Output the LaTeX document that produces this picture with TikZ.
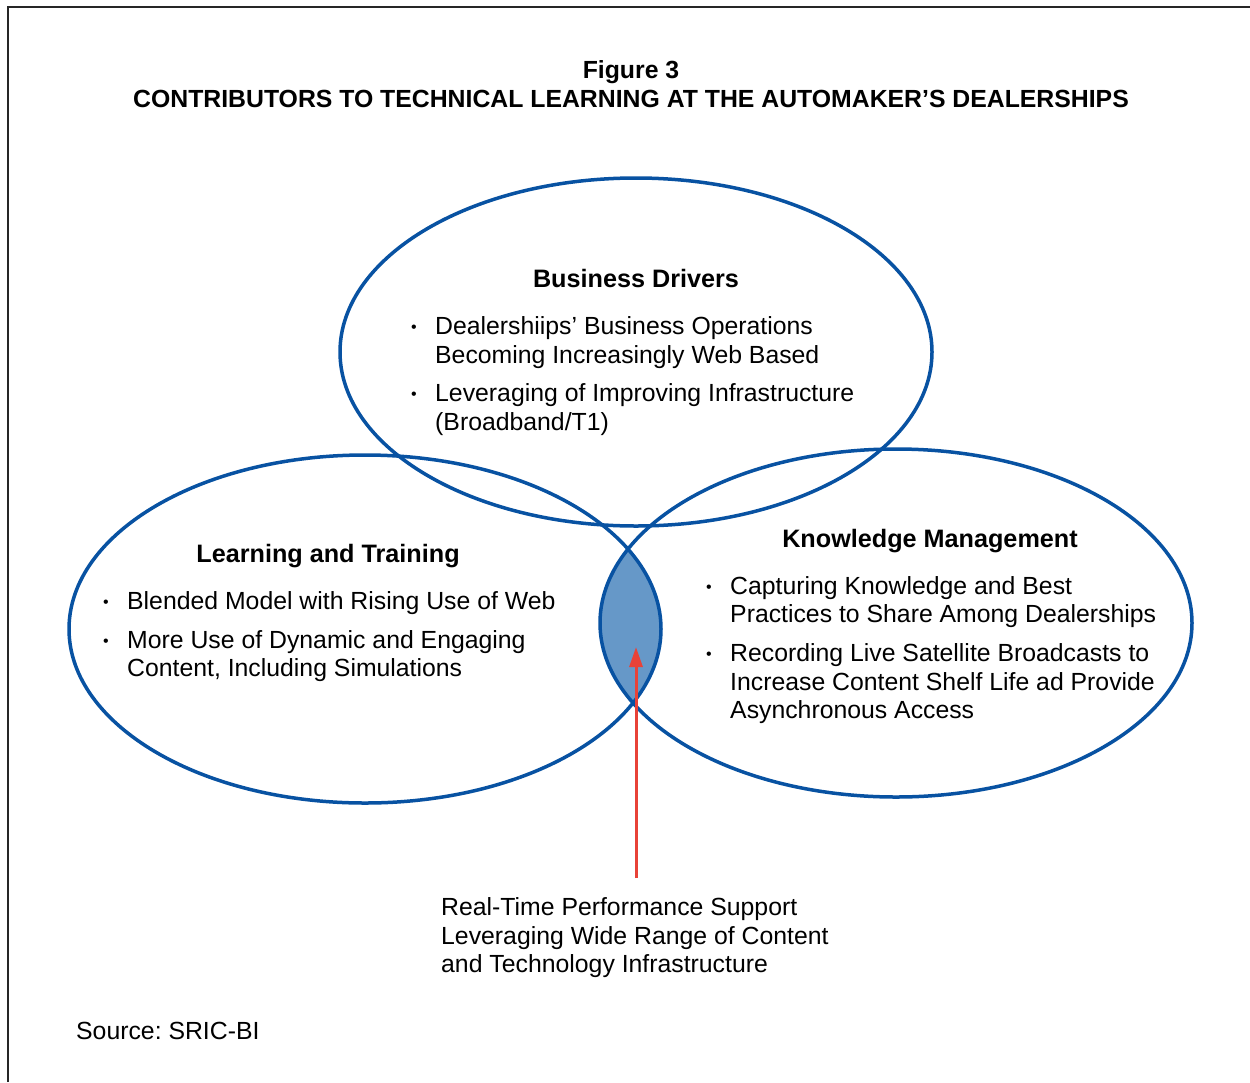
\documentclass[tikz,border=0pt]{standalone}
\usepackage{fontspec}
\setmainfont{Liberation Sans}
\usetikzlibrary{arrows.meta}
\definecolor{ringblue}{RGB}{8,82,162}
\definecolor{lensblue}{RGB}{102,152,200}
\definecolor{pointred}{RGB}{232,66,56}
\frenchspacing
\begin{document}
\begin{tikzpicture}[x=1pt,y=-1pt,
  ring/.style={draw=ringblue,line width=3.5pt},
  txt/.style={font=\fontsize{24.8}{29}\selectfont,anchor=base west,inner sep=0pt},
  head/.style={font=\fontsize{25.2}{29}\selectfont\bfseries,anchor=base,inner sep=0pt},
  titletxt/.style={font=\fontsize{24.8}{28}\selectfont\bfseries,anchor=base,inner sep=0pt},
  dot/.style={font=\fontsize{16}{16}\selectfont,anchor=base,inner sep=0pt}]
\useasboundingbox (0,0) rectangle (1250,1082);
\fill[white] (0,0) rectangle (1250,1082);
% frame
\draw[line width=2pt,black!85] (8,1082) -- (8,7) -- (1250,7);
% title
\node[titletxt] (fig) at (631,78) {Figure 3};
\node[titletxt] (title) at (631,107) {CONTRIBUTORS TO TECHNICAL LEARNING AT THE AUTOMAKER’S DEALERSHIPS};
% shaded overlap of the two lower rings
\begin{scope}
  \clip (365,629) ellipse [x radius=296, y radius=174];
  \fill[lensblue] (896,623) ellipse [x radius=296, y radius=174];
\end{scope}
% rings
\draw[ring] (636,352) ellipse [x radius=296, y radius=174];
\draw[ring] (365,629) ellipse [x radius=296, y radius=174];
\draw[ring] (896,623) ellipse [x radius=296, y radius=174];
% Business Drivers
\node[head] (bdh) at (636,287) {Business Drivers};
\node[dot] (bd1d) at (414,332) {•};
\node[txt] (bd1a) at (435,334) {Dealershiips’ Business Operations};
\node[txt] (bd1b) at (435,363) {Becoming Increasingly Web Based};
\node[dot] (bd2d) at (414,399) {•};
\node[txt] (bd2a) at (435,401) {Leveraging of Improving Infrastructure};
\node[txt] (bd2b) at (435,430) {(Broadband/T1)};
% Learning and Training
\node[head] (lth) at (328,562) {Learning and Training};
\node[dot] (lt1d) at (106,607) {•};
\node[txt] (lt1a) at (127,609) {Blended Model with Rising Use of Web};
\node[dot] (lt2d) at (106,646) {•};
\node[txt] (lt2a) at (127,648) {More Use of Dynamic and Engaging};
\node[txt] (lt2b) at (127,676) {Content, Including Simulations};
% Knowledge Management
\node[head] (kmh) at (930,547) {Knowledge Management};
\node[dot] (km1d) at (709,592) {•};
\node[txt] (km1a) at (730,594) {Capturing Knowledge and Best};
\node[txt] (km1b) at (730,622) {Practices to Share Among Dealerships};
\node[dot] (km2d) at (709,659) {•};
\node[txt] (km2a) at (730,661) {Recording Live Satellite Broadcasts to};
\node[txt] (km2b) at (730,690) {Increase Content Shelf Life ad Provide};
\node[txt] (km2c) at (730,718) {Asynchronous Access};
% performance support callout
\node[txt] (rt1) at (441,915) {Real-Time Performance Support};
\node[txt] (rt2) at (441,944) {Leveraging Wide Range of Content};
\node[txt] (rt3) at (441,972) {and Technology Infrastructure};
\coordinate (tail) at (636,878);
\coordinate (tip) at (636,647);
\draw[pointred,line width=3pt,-{Triangle[length=20pt,width=13pt]}] (tail) -- (tip);
% source
\node[txt] (src) at (76,1039) {Source: SRIC-BI};
\end{tikzpicture}
\end{document}
